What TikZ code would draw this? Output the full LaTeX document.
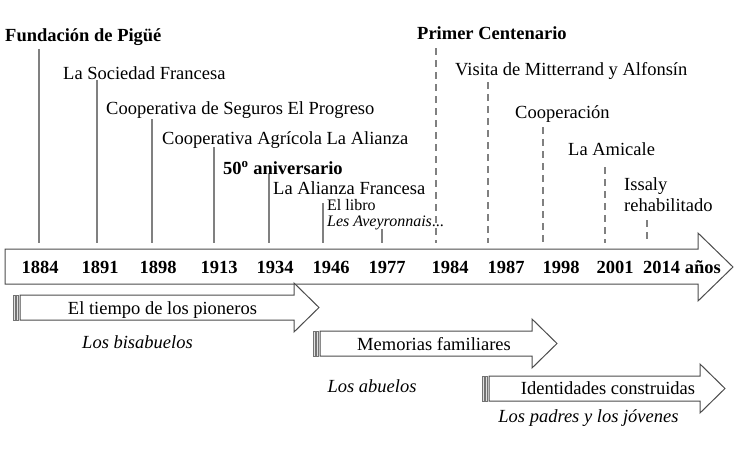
\documentclass[tikz,border=0pt]{standalone}
\usepackage{fontspec}
\setmainfont{Liberation Serif}
\begin{document}
\begin{tikzpicture}[x=1pt,y=-1pt,
		lbl/.style={anchor=base west,inner sep=0pt,font=\fontsize{18.5}{20}\selectfont},
		gen/.style={anchor=base,inner sep=0pt,font=\fontsize{18.5}{20}\selectfont},
		yr/.style={anchor=base,inner sep=0pt,font=\fontsize{18.5}{20}\selectfont\bfseries},
		tick/.style={draw=black!50,line width=1.3pt},
		dtick/.style={tick,dash pattern=on 7pt off 5pt},
		arr/.style={draw=black!70,fill=white,line width=1pt},
		bar/.style={draw=black!55,fill=black!12,line width=0.6pt}]
	\useasboundingbox (0,0) rectangle (745,450);
	% main time axis
	\draw[arr] (5,249) -- (698,249) -- (698,233) -- (733,267) -- (698,301) -- (698,284) -- (5,284) -- cycle;
	\coordinate (axis) at (0,243);
	\node[yr] (y1884) at (40,273) {1884};
	\node[yr] (y1891) at (100,273) {1891};
	\node[yr] (y1898) at (158,273) {1898};
	\node[yr] (y1913) at (219,273) {1913};
	\node[yr] (y1934) at (275,273) {1934};
	\node[yr] (y1946) at (331,273) {1946};
	\node[yr] (y1977) at (387,273) {1977};
	\node[yr] (y1984) at (450,273) {1984};
	\node[yr] (y1987) at (506,273) {1987};
	\node[yr] (y1998) at (561,273) {1998};
	\node[yr] (y2001) at (615,273) {2001};
	\node[yr,anchor=base west] (y2014) at (643,273) {2014 años};
	% events
	\node[lbl,font=\fontsize{18.5}{20}\selectfont\bfseries] (e1884) at (5,41) {Fundación de Pigüé};
	\node[lbl] (e1891) at (63,79) {La Sociedad Francesa};
	\node[lbl] (e1898) at (106,114) {Cooperativa de Seguros El Progreso};
	\node[lbl] (e1913) at (162,144) {Cooperativa Agrícola La Alianza};
	\node[lbl,font=\fontsize{18.5}{20}\selectfont\bfseries] (e1934a) at (223,174) {50\textsuperscript{o} aniversario};
	\node[lbl] (e1934b) at (273,194) {La Alianza Francesa};
	\node[lbl,font=\fontsize{16}{13}\selectfont] (e1946a) at (327,210) {El libro};
	\node[lbl,font=\fontsize{16}{13}\selectfont\itshape] (e1946b) at (327,226) {Les Aveyronnais\upshape...};
	\node[lbl,font=\fontsize{18.5}{20}\selectfont\bfseries] (e1984) at (417,39) {Primer Centenario};
	\node[lbl] (e1987) at (455,75) {Visita de Mitterrand y Alfonsín};
	\node[lbl] (e1998) at (515,118) {Cooperación};
	\node[lbl] (e2001) at (568,155) {La Amicale};
	\node[lbl] (e2014a) at (624,190) {Issaly};
	\node[lbl] (e2014b) at (624,211) {rehabilitado};
	% ticks
	\coordinate (t1884) at (39,49);
	\coordinate (t1891) at (97,80);
	\coordinate (t1898) at (152,119);
	\coordinate (t1913) at (214,147);
	\coordinate (t1934) at (269,174);
	\coordinate (t1946) at (323,203);
	\coordinate (t1977) at (382,229);
	\coordinate (t1984) at (436,48);
	\coordinate (t1987) at (488,82);
	\coordinate (t1998) at (543,127);
	\coordinate (t2001) at (605,167);
	\coordinate (t2014) at (647,220);
	\draw[tick] (t1884) -- (t1884 |- axis);
	\draw[tick] (t1891) -- (t1891 |- axis);
	\draw[tick] (t1898) -- (t1898 |- axis);
	\draw[tick] (t1913) -- (t1913 |- axis);
	\draw[tick] (t1934) -- (t1934 |- axis);
	\draw[tick] (t1946) -- (t1946 |- axis);
	\draw[tick] (t1977) -- (t1977 |- axis);
	\draw[dtick] (t1984) -- (t1984 |- axis);
	\draw[dtick] (t1987) -- (t1987 |- axis);
	\draw[dtick] (t1998) -- (t1998 |- axis);
	\draw[dtick] (t2001) -- (t2001 |- axis);
	\draw[dtick] (t2014) -- (t2014 |- axis);
	% generations
	\draw[bar] (13,295) rectangle (15,320);
	\draw[bar] (16.5,295) rectangle (18.5,320);
	\draw[arr] (20,295) -- (294,295) -- (294,283) -- (319,307.5) -- (294,332) -- (294,320) -- (20,320) -- cycle;
	\node[gen] (g1) at (162.5,314) {El tiempo de los pioneros};
	\node[gen,font=\fontsize{18.5}{20}\selectfont\itshape] (g1p) at (137.5,348) {Los bisabuelos};
	\draw[bar] (313,331) rectangle (315,356);
	\draw[bar] (316.5,331) rectangle (318.5,356);
	\draw[arr] (320,331) -- (532,331) -- (532,319) -- (557,343.5) -- (532,368) -- (532,356) -- (320,356) -- cycle;
	\node[gen] (g2) at (434,350) {Memorias familiares};
	\node[gen,font=\fontsize{18.5}{20}\selectfont\itshape] (g2p) at (372,392) {Los abuelos};
	\draw[bar] (482,376) rectangle (484,401);
	\draw[bar] (485.5,376) rectangle (487.5,401);
	\draw[arr] (489,376) -- (700,376) -- (700,364) -- (725,388.5) -- (700,413) -- (700,401) -- (489,401) -- cycle;
	\node[gen] (g3) at (608,394) {Identidades construidas};
	\node[gen,font=\fontsize{18.5}{20}\selectfont\itshape] (g3p) at (588.5,422) {Los padres y los jóvenes};
\end{tikzpicture}
\end{document}
